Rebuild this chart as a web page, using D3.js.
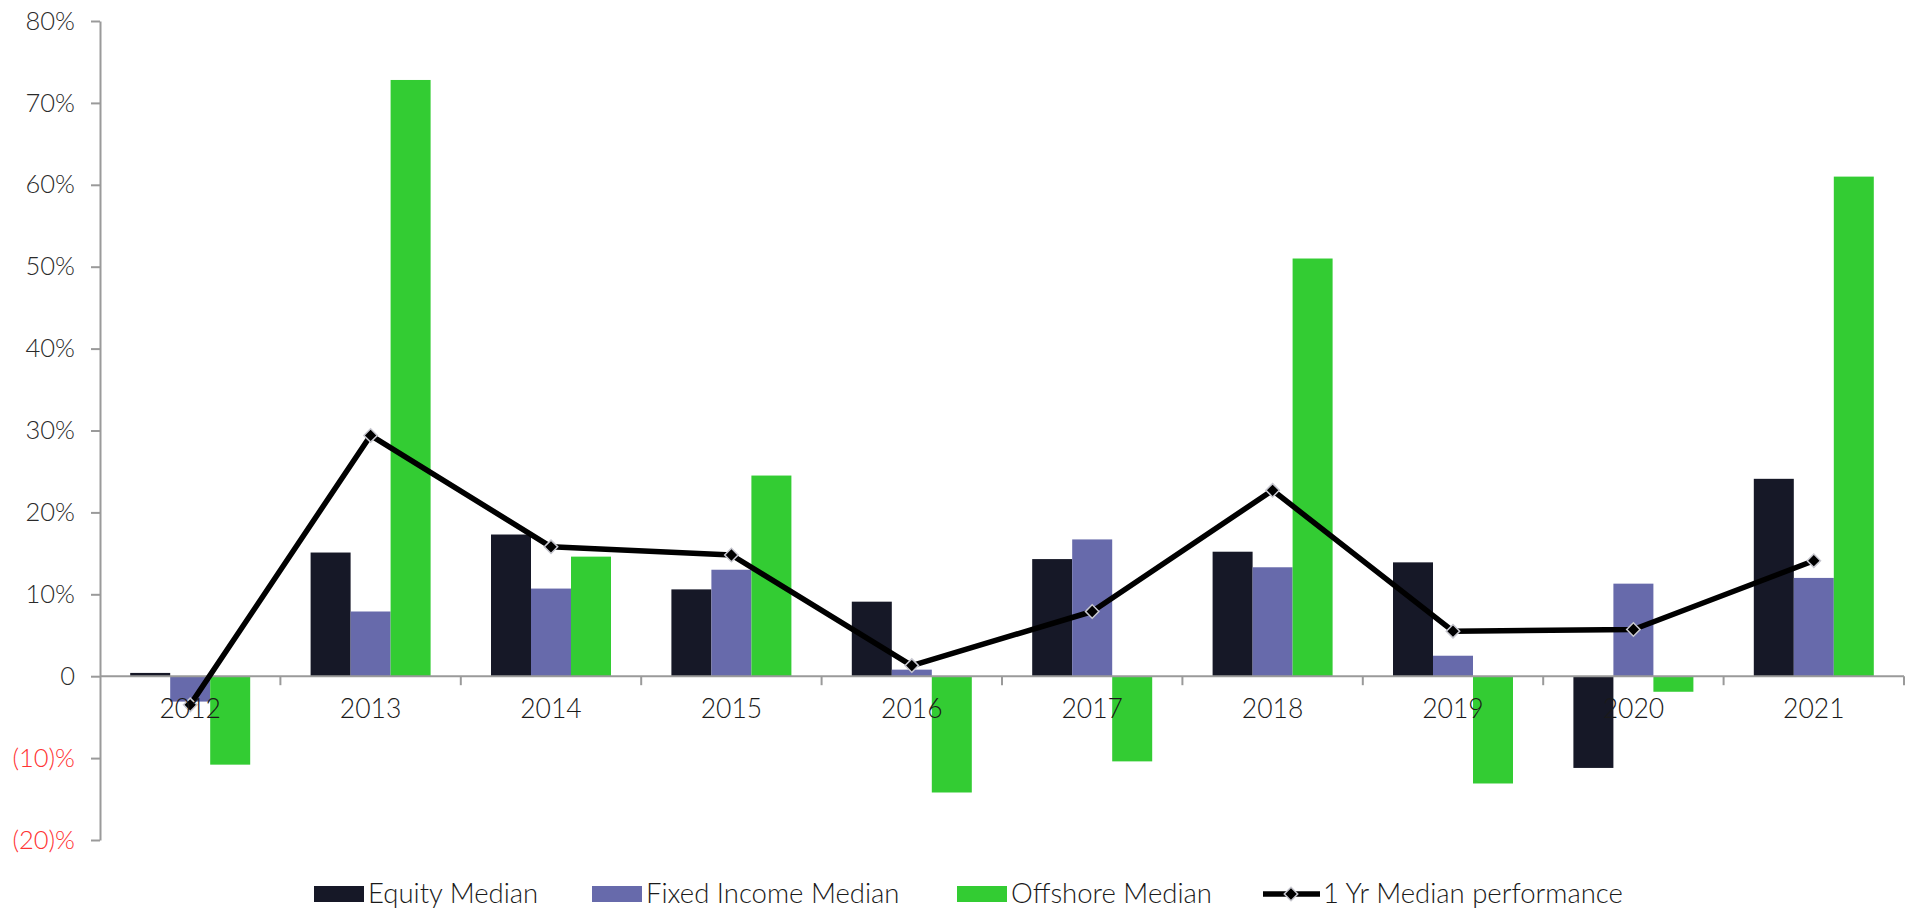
<!DOCTYPE html>
<html>
<head>
<meta charset="utf-8">
<script src="https://cdn.jsdelivr.net/npm/d3@7"></script>
<style>
  body { margin: 0; background: #fff; }
  text { font-family: Lato, "Open Sans", sans-serif; font-weight: 300; }
</style>
</head>
<body>
<svg class="chart"></svg>
<script>
const width = 1912, height = 908;

// data (percent)
const years = ["2012", "2013", "2014", "2015", "2016", "2017", "2018", "2019", "2020", "2021"];
const equity = [0.4, 15.1, 17.3, 10.6, 9.1, 14.3, 15.2, 13.9, -11.2, 24.1];
const fixedIncome = [-3.1, 7.9, 10.7, 13.0, 0.8, 16.7, 13.3, 2.5, 11.3, 12.0];
const offshore = [-10.8, 72.8, 14.6, 24.5, -14.2, -10.4, 51.0, -13.1, -1.9, 61.0];
const medianPerf = [-3.5, 29.4, 15.8, 14.8, 1.3, 7.9, 22.7, 5.5, 5.7, 14.1];

const seriesNames = ["Equity Median", "Fixed Income Median", "Offshore Median"];
const lineName = "1 Yr Median performance";
const colors = ["#161827", "#676aab", "#33cc33"];
const yTicks = [-20, -10, 0, 10, 20, 30, 40, 50, 60, 70, 80];

const barData = years.map((y, i) => ({
  year: y,
  values: [equity[i], fixedIncome[i], offshore[i]].map((v, j) => ({ key: seriesNames[j], v: v, c: colors[j] }))
}));

const svg = d3.select(".chart")
  .attr("width", width)
  .attr("height", height);

const x0 = d3.scaleBand().domain(years).range([100, 1904]).padding(0);
const x1 = d3.scaleBand().domain(seriesNames).range([0, x0.bandwidth()]).paddingOuter(0.755);
const y = d3.scaleLinear().domain([-20, 80]).range([840, 21]);

// bars
const groups = svg.append("g").attr("class", "bars")
  .selectAll("g")
  .data(barData)
  .enter().append("g")
  .attr("transform", d => `translate(${x0(d.year)},0)`);

groups.selectAll("rect")
  .data(d => d.values)
  .enter().append("rect")
  .attr("x", d => x1(d.key))
  .attr("width", x1.bandwidth())
  .attr("y", d => y(Math.max(0, d.v)))
  .attr("height", d => Math.abs(y(d.v) - y(0)))
  .attr("fill", d => d.c);

// y axis
const yAxis = svg.append("g")
  .attr("transform", "translate(100,0)")
  .call(d3.axisLeft(y).tickValues(yTicks).tickSize(9).tickSizeOuter(0)
    .tickFormat(d => d < 0 ? `(${-d})%` : d === 0 ? "0" : `${d}%`));
yAxis.select(".domain").attr("stroke", "#9a9a9a").attr("stroke-width", 2);
yAxis.selectAll(".tick line").attr("stroke", "#9a9a9a").attr("stroke-width", 2);
yAxis.selectAll(".tick text")
  .attr("x", -25)
  .attr("font-size", 25.5)
  .attr("font-family", "Lato, sans-serif")
  .attr("fill", d => d < 0 ? "#ff3333" : "#2a2a2a");

// x axis on zero line, ticks at category boundaries
const xAxis = svg.append("g").attr("transform", `translate(0,${y(0)})`);
xAxis.append("line")
  .attr("x1", 100).attr("x2", 1904)
  .attr("stroke", "#9a9a9a").attr("stroke-width", 2);
const bounds = years.map(d => x0(d)).concat([x0(years[years.length - 1]) + x0.bandwidth()]);
xAxis.selectAll(".bt")
  .data(bounds.slice(1))
  .enter().append("line")
  .attr("x1", d => d).attr("x2", d => d)
  .attr("y1", 0).attr("y2", 9)
  .attr("stroke", "#9a9a9a").attr("stroke-width", 2);

// line
const cx = d => x0(d) + x0.bandwidth() / 2;
const lineData = years.map((yr, i) => ({ year: yr, v: medianPerf[i] }));
svg.append("path")
  .datum(lineData)
  .attr("fill", "none")
  .attr("stroke", "#000")
  .attr("stroke-width", 5.5)
  .attr("stroke-linejoin", "round")
  .attr("d", d3.line().x(d => cx(d.year)).y(d => y(d.v)));

const diamond = d3.symbol().type(d3.symbolSquare).size(90);
svg.append("g").selectAll("path")
  .data(lineData)
  .enter().append("path")
  .attr("d", diamond)
  .attr("transform", d => `translate(${cx(d.year)},${y(d.v)}) rotate(45)`)
  .attr("fill", "#000")
  .attr("stroke", "#c8c8d0")
  .attr("stroke-width", 1.5);

// year labels (drawn after bars so they sit on top)
svg.append("g").selectAll("text")
  .data(years)
  .enter().append("text")
  .attr("x", d => cx(d))
  .attr("y", 718)
  .attr("text-anchor", "middle")
  .attr("font-size", 26.5)
  .attr("fill", "#1a1a1a")
  .text(d => d);

// legend
const legendX = [314, 592, 957];
const legend = svg.append("g");
seriesNames.forEach((name, i) => {
  legend.append("rect")
    .attr("x", legendX[i]).attr("y", 886)
    .attr("width", 50).attr("height", 16)
    .attr("fill", colors[i]);
  legend.append("text")
    .attr("x", legendX[i] + 54).attr("y", 903)
    .attr("font-size", 27.5)
    .attr("fill", "#1a1a1a")
    .text(name);
});
legend.append("line")
  .attr("x1", 1263).attr("x2", 1320)
  .attr("y1", 894).attr("y2", 894)
  .attr("stroke", "#000").attr("stroke-width", 5.5);
legend.append("path")
  .attr("d", diamond)
  .attr("transform", "translate(1291,894) rotate(45)")
  .attr("fill", "#000")
  .attr("stroke", "#c8c8d0")
  .attr("stroke-width", 1.5);
legend.append("text")
  .attr("x", 1323).attr("y", 903)
  .attr("font-size", 27.5)
  .attr("fill", "#1a1a1a")
  .text(lineName);
</script>
</body>
</html>
